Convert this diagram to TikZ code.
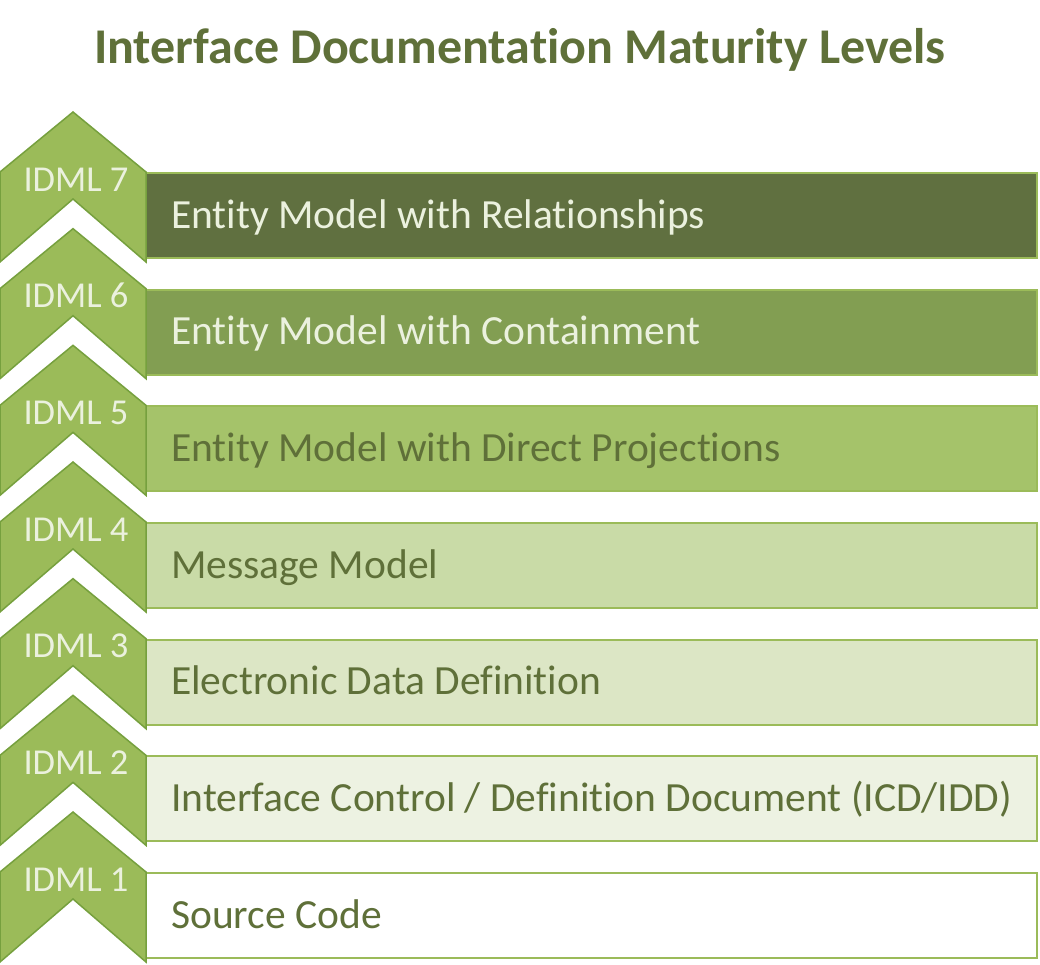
\documentclass[tikz,border=0pt]{standalone}
\usepackage{fontspec}
\setmainfont{Carlito}[Ligatures=NoCommon]
\definecolor{chevfill}{HTML}{9BBB59}
\definecolor{chevline}{HTML}{76A03E}
\definecolor{barline}{HTML}{9BBB59}
\definecolor{titlecol}{HTML}{5F7039}
\definecolor{darktext}{HTML}{5F7039}
\definecolor{lighttext}{HTML}{EBF1DE}
\definecolor{bseven}{HTML}{607040}
\definecolor{bsix}{HTML}{829E52}
\definecolor{bfive}{HTML}{A5C36A}
\definecolor{bfour}{HTML}{C9DBA7}
\definecolor{bthree}{HTML}{DCE6C5}
\definecolor{btwo}{HTML}{EDF2E2}
\definecolor{bone}{HTML}{FFFFFF}
\tikzset{
  barbox/.style={draw=barline, line width=2pt},
  chevshape/.style={draw=chevline, fill=chevfill, line width=1.5pt, line join=miter},
  chevlabel/.style={anchor=base, text=lighttext, font=\fontsize{36.5}{40}\selectfont, inner sep=0pt},
  bartext/.style={anchor=base west, font=\fontsize{41.5}{46}\selectfont, inner sep=0pt},
  titletext/.style={anchor=base, text=titlecol, font=\bfseries\fontsize{50}{56}\selectfont, inner sep=0pt}
}
\begin{document}
\begin{tikzpicture}[x=1pt,y=-1pt]
\useasboundingbox (0,0) rectangle (1040,964);
\node[titletext] (title) at (520,63) {Interface Documentation Maturity Levels};
\foreach \i/\bcol/\tcol/\txt in {
  7/bseven/lighttext/{Entity Model with Relationships},
  6/bsix/lighttext/{Entity Model with Containment},
  5/bfive/darktext/{Entity Model with Direct Projections},
  4/bfour/darktext/{Message Model},
  3/bthree/darktext/{Electronic Data Definition},
  2/btwo/darktext/{Interface Control / Definition Document (ICD/IDD)},
  1/bone/darktext/{Source Code}}{
  \pgfmathsetmacro\ap{812-(\i-1)*116.667}
  \draw[barbox, fill=\bcol] (146,\ap+61) rectangle (1037,\ap+146);
  \draw[chevshape] (73,\ap) -- (146,\ap+60) -- (146,\ap+150) -- (73,\ap+87)
     -- (0,\ap+150) -- (0,\ap+60) -- cycle;
  \node[chevlabel] (lab\i) at (76,\ap+79) {IDML \i};
  \node[bartext, text=\tcol] (txt\i) at (171,\ap+116) {\txt};
}
\end{tikzpicture}
\end{document}
